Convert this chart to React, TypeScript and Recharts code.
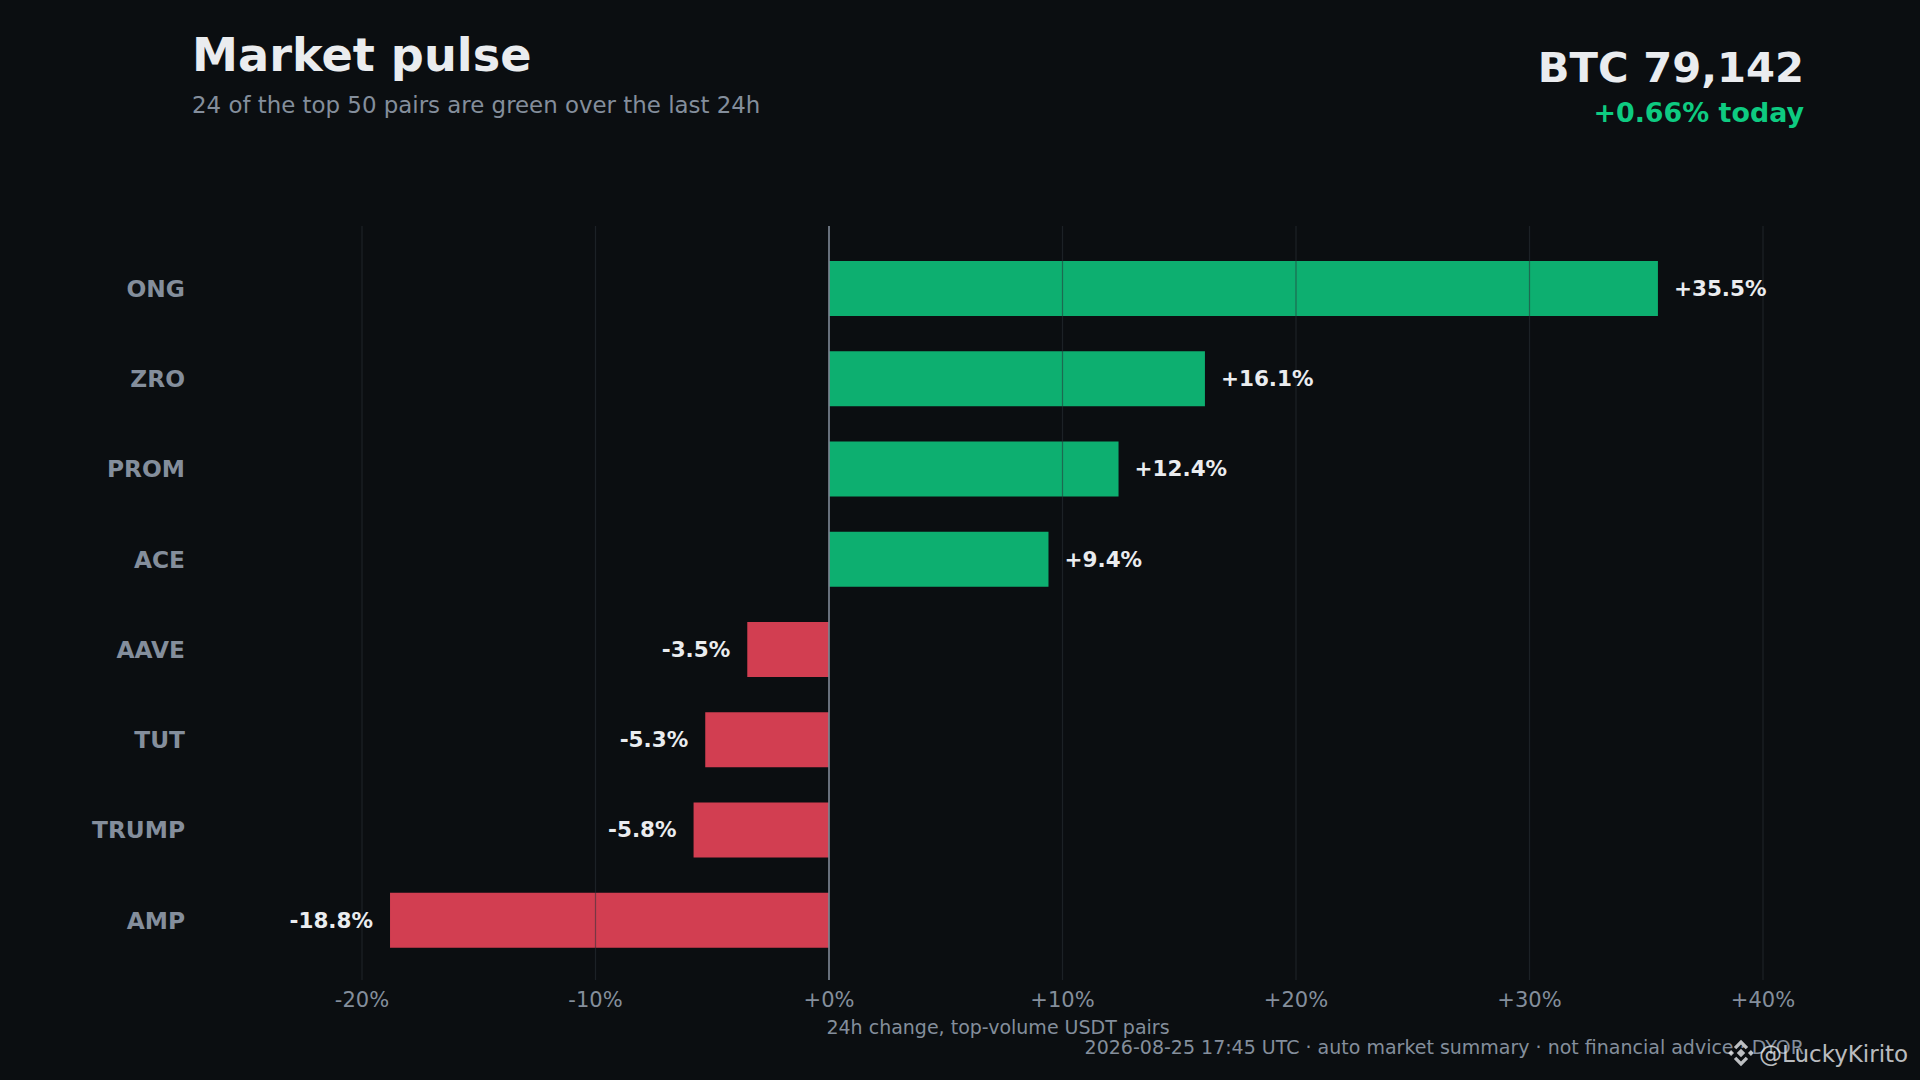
import React from 'react';
import {
  BarChart,
  Bar,
  Cell,
  XAxis,
  YAxis,
  CartesianGrid,
  ReferenceLine,
  LabelList,
} from 'recharts';

// 24h movers, top to bottom as drawn
const coins = ['ONG', 'ZRO', 'PROM', 'ACE', 'AAVE', 'TUT', 'TRUMP', 'AMP'];
const changes = [35.5, 16.1, 12.4, 9.4, -3.5, -5.3, -5.8, -18.8];
const xTicks = [-20, -10, 0, 10, 20, 30, 40];

const title = 'Market pulse';
const subtitle = '24 of the top 50 pairs are green over the last 24h';
const btcPrice = 'BTC 79,142';
const btcChange = '+0.66% today';
const xLabel = '24h change, top-volume USDT pairs';
const footer = '2026-08-25 17:45 UTC · auto market summary · not financial advice · DYOR';
const handle = '@LuckyKirito';

const data = coins.map((name, i) => ({ name, value: changes[i] }));

const BG = '#0b0e11';
const UP = '#0ecb81';
const DOWN = '#f6465d';
const MUTED = '#848e9c';
const TEXT = '#eaecef';
const FONT = '"DejaVu Sans", sans-serif';

const pct = (v: number) => `${v >= 0 ? '+' : ''}${v}%`;
const pct1 = (v: number) => `${v >= 0 ? '+' : ''}${v.toFixed(1)}%`;

const CoinTick = (props: any) => {
  const { x, y, payload } = props;
  return (
    <text
      x={x}
      y={y}
      dy="0.38em"
      textAnchor="end"
      fill={MUTED}
      fontSize={23.3}
      fontWeight="bold"
      fontFamily={FONT}
    >
      {payload.value}
    </text>
  );
};

const ValueLabel = (props: any) => {
  const box = props.viewBox ?? props;
  const x = Number(box.x);
  const y = Number(box.y);
  const w = Number(box.width);
  const h = Number(box.height);
  const v = Number(props.value);
  const left = Math.min(x, x + w);
  const right = Math.max(x, x + w);
  const up = v >= 0;
  return (
    <text
      x={up ? right + 16 : left - 17}
      y={y + h / 2}
      dy="0.34em"
      textAnchor={up ? 'start' : 'end'}
      fill={TEXT}
      fontSize={21.5}
      fontWeight="bold"
      fontFamily={FONT}
    >
      {pct1(v)}
    </text>
  );
};

export default function App() {
  return (
    <div style={{ position: 'relative', width: 1920, height: 1080, background: BG, overflow: 'hidden' }}>
      <style>{`body{margin:0;background:${BG};}`}</style>
      <BarChart
        width={1920}
        height={1080}
        data={data}
        layout="vertical"
        margin={{ top: 226, right: 157, bottom: 70, left: 0 }}
        barSize={55}
      >
        <XAxis
          type="number"
          domain={[-20, 40]}
          ticks={xTicks}
          tickFormatter={pct}
          axisLine={false}
          tickLine={false}
          tickSize={0}
          tickMargin={12}
          height={30}
          tick={{ fill: MUTED, fontSize: 21, fontFamily: FONT }}
        />
        <YAxis
          type="category"
          dataKey="name"
          width={362}
          axisLine={false}
          tickLine={false}
          tickSize={0}
          tickMargin={177}
          padding={{ top: 17, bottom: 15 }}
          tick={<CoinTick />}
        />
        <Bar dataKey="value" isAnimationActive={false}>
          {data.map((d) => (
            <Cell key={d.name} fill={d.value >= 0 ? UP : DOWN} fillOpacity={0.85} />
          ))}
          <LabelList dataKey="value" content={<ValueLabel />} />
        </Bar>
        <CartesianGrid
          horizontal={false}
          stroke="#2b3139"
          strokeOpacity={0.55}
          strokeWidth={1.2}
          zIndex={500}
        />
        <ReferenceLine x={0} stroke={MUTED} strokeWidth={1.5} zIndex={600} />
      </BarChart>

      <svg
        width={1920}
        height={1080}
        style={{ position: 'absolute', left: 0, top: 0, pointerEvents: 'none' }}
        fontFamily={FONT}
      >
        <text x={192} y={71} fill={TEXT} fontSize={46.2} fontWeight="bold">
          {title}
        </text>
        <text x={192} y={113} fill={MUTED} fontSize={22.9}>
          {subtitle}
        </text>
        <text x={1804} y={82} textAnchor="end" fill={TEXT} fontSize={41.7} fontWeight="bold">
          {btcPrice}
        </text>
        <text x={1804} y={122} textAnchor="end" fill={UP} fontSize={26.9} fontWeight="bold">
          {btcChange}
        </text>
        <text x={998} y={1034} textAnchor="middle" fill={MUTED} fontSize={19}>
          {xLabel}
        </text>
        <text x={1804} y={1054} textAnchor="end" fill={MUTED} fontSize={19}>
          {footer}
        </text>
        <g transform="translate(1741,1053) scale(1.15)" fill={TEXT} fillOpacity={0.8}>
          <rect x={-2.6} y={-2.6} width={5.2} height={5.2} transform="rotate(45)" />
          <rect x={-1.8} y={-1.8} width={3.6} height={3.6} transform="translate(-8.6,0) rotate(45)" />
          <rect x={-1.8} y={-1.8} width={3.6} height={3.6} transform="translate(8.6,0) rotate(45)" />
          <polygon points="0,-11.5 6.2,-5.3 4.1,-3.2 0,-7.3 -4.1,-3.2 -6.2,-5.3" />
          <polygon points="0,11.5 6.2,5.3 4.1,3.2 0,7.3 -4.1,3.2 -6.2,5.3" />
        </g>
        <text x={1759} y={1062} fill={TEXT} fillOpacity={0.8} fontSize={23}>
          {handle}
        </text>
      </svg>
    </div>
  );
}
